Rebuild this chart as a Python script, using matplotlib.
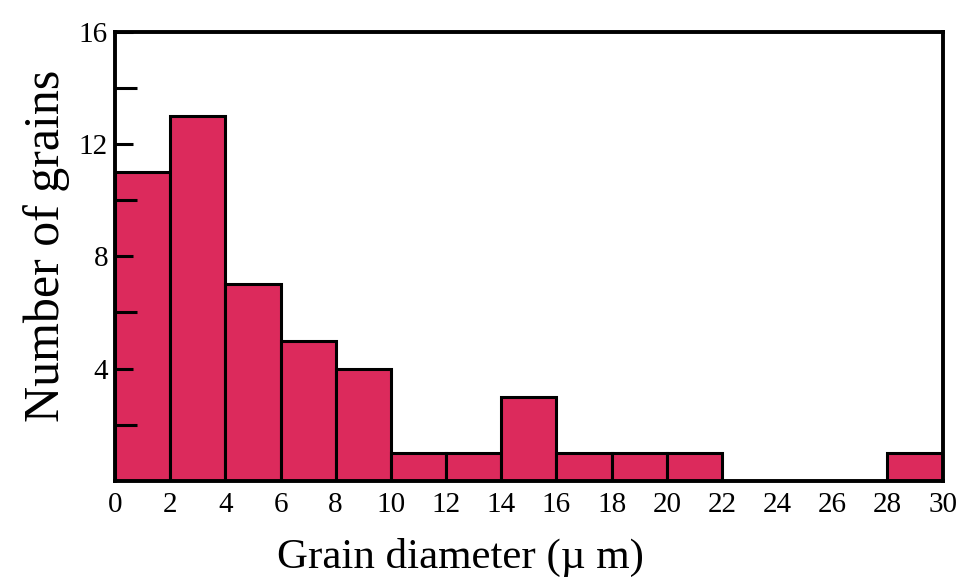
import numpy as np
import matplotlib.pyplot as plt

plt.rcParams['font.family'] = ['Liberation Serif', 'DejaVu Serif']

bin_edges = np.arange(0, 32, 2)
counts = [11, 13, 7, 5, 4, 1, 1, 3, 1, 1, 1, 0, 0, 0, 1]

fig = plt.figure(figsize=(9.58, 5.8), dpi=100)
ax = fig.add_axes([0.120, 0.171, 0.864, 0.774])

ax.bar(bin_edges[:-1], counts, width=2, align='edge', color='#dc2a5c',
       edgecolor='black', linewidth=2.2)

ax.set_xlim(0, 30)
ax.set_ylim(0, 16)
ax.set_xticks(bin_edges)
ax.set_yticks([4, 8, 12, 16])
ax.set_yticks([2, 6, 10, 14], minor=True)
ax.tick_params(axis='x', length=0, labelsize=21, pad=8)
ax.tick_params(axis='y', which='major', direction='in', length=13, width=2.2,
               labelsize=21, pad=5)
ax.tick_params(axis='y', which='minor', direction='in', length=16, width=2.2)
for s in ax.spines.values():
    s.set_linewidth(2.8)

ax.set_xlabel('Grain diameter (µ m)', fontsize=31)
ax.xaxis.set_label_coords(0.417, -0.127)
ax.set_ylabel('Number of grains', fontsize=36)
ax.yaxis.set_label_coords(-0.054, 0.523)

plt.savefig('out.png', dpi=100)
plt.close()
